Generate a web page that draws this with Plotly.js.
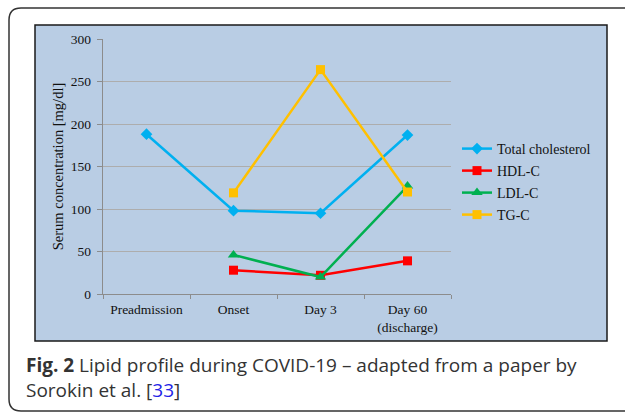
<!DOCTYPE html>
<html><head><meta charset="utf-8">
<script src="https://cdn.plot.ly/plotly-3.0.1.min.js"></script>
<style>html,body{margin:0;padding:0;background:#fff}#c{width:625px;height:413px}</style>
</head><body><div id="c"></div>
<script>
const categories = ['Preadmission', 'Onset', 'Day 3', 'Day 60<br>(discharge)'];
const totalChol = [188, 98, 95, 187];
const hdl = [null, 28, 22, 39];
const ldl = [null, 46, 20, 127];
const tg = [null, 119, 264, 120];
const seriesNames = ['Total cholesterol', 'HDL-C', 'LDL-C', 'TG-C'];
const yTicks = [0, 50, 100, 150, 200, 250, 300];

const W = 625, H = 413;
const px = x => x / W, py = y => 1 - y / H;
const serif = '"Liberation Serif", "Times New Roman", serif';

function tr(y, name, color, symbol, size, leg) {
  return {x: categories, y: y, name: name, type: 'scatter', mode: 'lines+markers',
    line: {color: color, width: 2.5}, marker: {symbol: symbol, size: size, color: color},
    legend: leg, connectgaps: false};
}
const data = [
  tr(totalChol, seriesNames[0], '#00b0f0', 'diamond', 9, 'legend'),
  tr(hdl, seriesNames[1], '#ff0000', 'square', 9, 'legend2'),
  tr(ldl, seriesNames[2], '#00b050', 'triangle-up', 10, 'legend3'),
  tr(tg, seriesNames[3], '#ffc000', 'square', 9, 'legend4')
];
function leg(y) {
  return {x: px(457), y: py(y), xanchor: 'left', yanchor: 'middle', bgcolor: 'rgba(0,0,0,0)',
    font: {family: serif, size: 14, color: '#111'}, itemwidth: 30, borderwidth: 0};
}
const r = 12;
const ox0 = px(9), ox1 = px(640), oy0 = py(411), oy1 = py(8);
const rx = r / W, ry = r / H;
const outerPath = `M ${ox0+rx},${oy1} L ${ox1},${oy1} M ${ox1},${oy0} L ${ox0+rx},${oy0} Q ${ox0},${oy0} ${ox0},${oy0+ry} L ${ox0},${oy1-ry} Q ${ox0},${oy1} ${ox0+rx},${oy1}`;

const layout = {
  width: W, height: H,
  margin: {l: 0, r: 0, t: 0, b: 0},
  paper_bgcolor: '#ffffff', plot_bgcolor: '#ffffff',
  showlegend: true,
  legend: leg(149), legend2: leg(171), legend3: leg(193), legend4: leg(215),
  xaxis: {domain: [px(103), px(451)], type: 'category', range: [-0.5, 3.5],
    showgrid: false, showline: true, linecolor: '#8c8c8c', linewidth: 1.2,
    ticks: 'outside', tickson: 'boundaries', ticklen: 4, tickcolor: '#8c8c8c', ticklabelstandoff: 3,
    tickfont: {family: serif, size: 13.5, color: '#111'}, fixedrange: true, automargin: false},
  yaxis: {domain: [py(294), py(39)], range: [0, 300], tickvals: yTicks,
    showgrid: true, gridcolor: '#adadad', gridwidth: 1, zeroline: false,
    showline: true, linecolor: '#8c8c8c', linewidth: 1.2,
    ticks: 'outside', ticklen: 5, tickcolor: '#8c8c8c', ticklabelstandoff: 3,
    tickfont: {family: serif, size: 13.5, color: '#111'},
    title: {text: 'Serum concentration [mg/dl]', font: {family: serif, size: 14.5, color: '#111'}, standoff: 3},
    fixedrange: true, automargin: false},
  shapes: [
    {type: 'path', xref: 'paper', yref: 'paper', path: outerPath, line: {color: '#333333', width: 1.5}, layer: 'below'},
    {type: 'rect', xref: 'paper', yref: 'paper', x0: px(35), x1: px(607), y0: py(341), y1: py(25),
      fillcolor: '#b9cde4', line: {color: '#1a1a1a', width: 1.5}, layer: 'below'}
  ],
  annotations: [
    {xref: 'paper', yref: 'paper', x: px(24), y: py(365), xanchor: 'left', yanchor: 'middle', showarrow: false,
      align: 'left', text: '<b>Fig. 2</b> Lipid profile during COVID-19 – adapted from a paper by',
      font: {family: 'Open Sans, Noto Sans, sans-serif', size: 19, color: '#333333'}},
    {xref: 'paper', yref: 'paper', x: px(24), y: py(390), xanchor: 'left', yanchor: 'middle', showarrow: false,
      align: 'left', text: 'Sorokin et al. [<span style="color:#2323e6">33</span>]',
      font: {family: 'Open Sans, Noto Sans, sans-serif', size: 19, color: '#333333'}}
  ]
};
Plotly.newPlot('c', data, layout, {displayModeBar: false, staticPlot: true});
</script></body></html>
